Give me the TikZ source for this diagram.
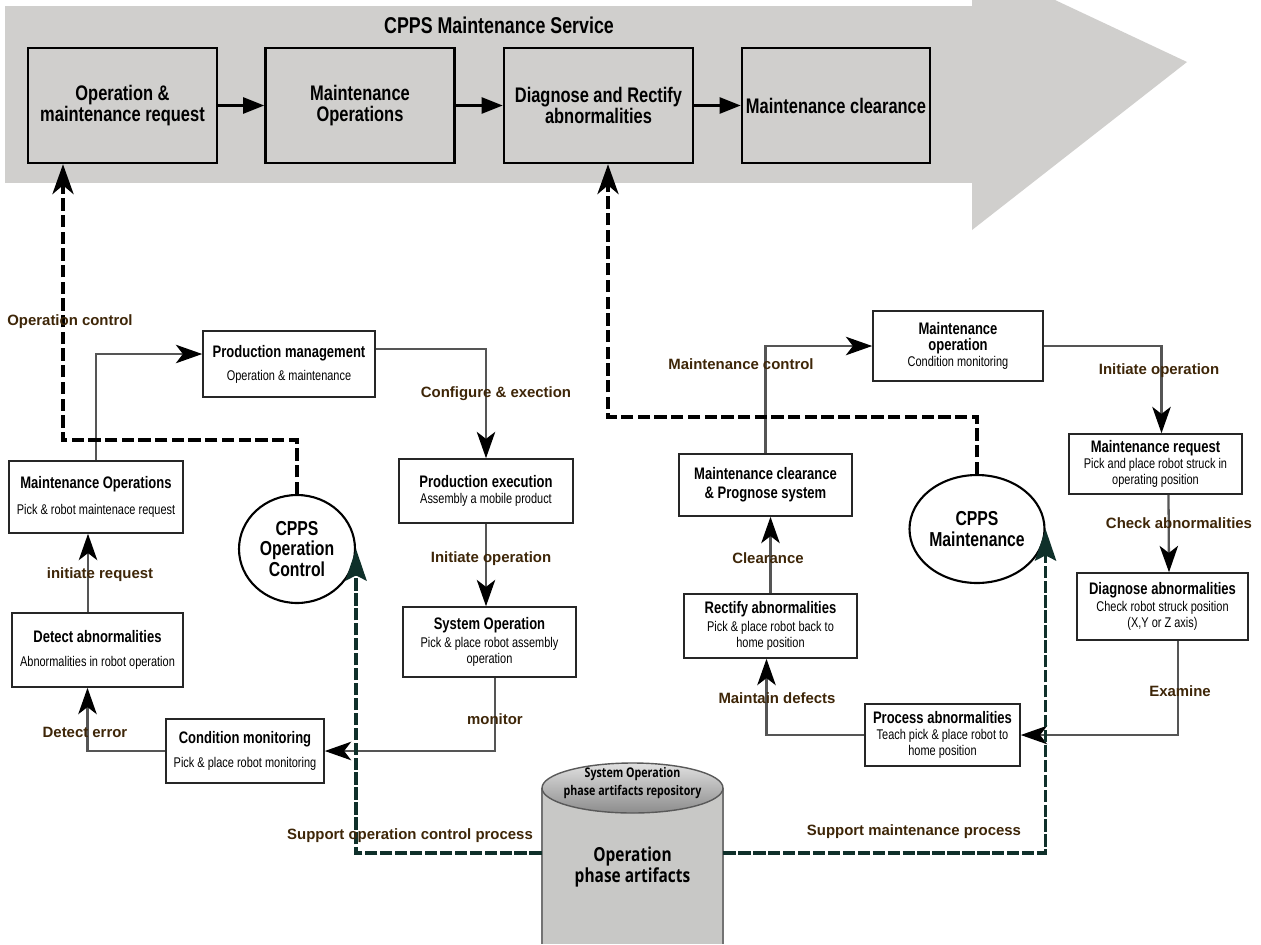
\documentclass[tikz,border=0pt]{standalone}
\usepackage{fontspec}
\usetikzlibrary{arrows.meta,calc,shapes.geometric}
\newfontfamily\nar[FakeStretch=0.78]{Liberation Sans}
\newfontfamily\labfam{Liberation Sans}
\newfontfamily\osans[FakeStretch=0.8]{Open Sans}
\definecolor{bgray}{RGB}{208,207,205}
\definecolor{lgray}{RGB}{85,85,85}
\definecolor{tealc}{RGB}{15,48,42}
\definecolor{brownc}{RGB}{62,38,8}
\definecolor{cylg}{RGB}{200,200,198}
\newcommand\ttlf{\nar\bfseries\fontsize{9.5}{11}\selectfont}
\newcommand\subf{\nar\fontsize{8}{9}\selectfont}
\newcommand\labf{\labfam\bfseries\fontsize{8.5}{10}\selectfont}
\newcommand\bigf{\nar\bfseries\fontsize{12}{12}\selectfont}
\newcommand\circf{\nar\bfseries\fontsize{11.5}{11.5}\selectfont}
\newcommand\titf{\nar\bfseries\fontsize{13}{14}\selectfont}
\begin{document}
\begin{tikzpicture}[x=0.02cm,y=-0.02cm,
  bbox/.style={draw=black,line width=1.4pt,fill=bgray,minimum width=3.78cm,minimum height=2.3cm,inner sep=2pt,align=center,font=\bigf},
  sbox/.style={draw=black!85,line width=0.9pt,fill=white,align=center,inner sep=1pt,font=\subf},
  circ/.style={draw=black,line width=1.2pt,ellipse,minimum width=2.32cm,minimum height=2.16cm,inner sep=0pt,align=center,font=\circf},
  conn/.style={draw=lgray,line width=1.3pt,-{Stealth[length=15pt,width=10.5pt,inset=4pt,color=black]}},
  bar/.style={draw=black,line width=1.7pt,-{Triangle[length=12pt,width=9pt]}},
  dsh/.style={draw=black,line width=2.2pt,dash pattern=on 7pt off 2.5pt,-{Stealth[length=17pt,width=12pt,inset=5pt]}},
  tdsh/.style={draw=tealc,line width=2pt,dash pattern=on 7pt off 1.5pt,-{Stealth[length=18pt,width=12pt,inset=3pt]}},
  lab/.style={font=\labf,text=brownc,inner sep=0pt},
]
\fill[white] (0,0) rectangle (1261,944);
\useasboundingbox (0,0) rectangle (1261,944);

% banner
\fill[bgray] (5,6) rectangle (972,183);
\fill[bgray] (972,0) -- (1055,0) -- (1187,62) -- (972,230) -- cycle;
\node[font=\titf] (title) at (499,25) {CPPS Maintenance Service};
\node[bbox] (b1) at (122.5,105.5) {Operation \&\\maintenance request};
\node[bbox] (b2) at (360,105.5) {Maintenance\\Operations};
\node[bbox] (b3) at (598.5,105.5) {Diagnose and Rectify\\abnormalities};
\node[bbox,minimum width=3.76cm] (b4) at (836,105.5) {Maintenance clearance};
\draw[bar] (b1) -- (b2);
\draw[bar] (b2) -- (b3);
\draw[bar] (b3) -- (b4);

% left part
\node[sbox,minimum width=3.44cm,minimum height=1.32cm] (pm) at (289,364) {{\ttlf Production management}\\[4pt]Operation \& maintenance};
\node[sbox,minimum width=3.48cm,minimum height=1.44cm] (mo) at (96,497) {{\ttlf Maintenance Operations}\\[6pt]Pick \& robot maintenace request};
\node[sbox,minimum width=3.42cm,minimum height=1.48cm] (da) at (97.5,650) {{\ttlf Detect abnormalities}\\[5pt]Abnormalities in robot operation};
\node[sbox,minimum width=3.16cm,minimum height=1.28cm] (cm) at (245,751) {{\ttlf Condition monitoring}\\[5pt]Pick \& place robot monitoring};
\node[sbox,minimum width=3.48cm,minimum height=1.28cm] (pe) at (486,491) {{\ttlf Production execution}\\Assembly a mobile product};
\node[sbox,minimum width=3.46cm,minimum height=1.40cm] (so) at (489.5,642) {{\ttlf System Operation}\\[1pt]Pick \& place robot assembly\\operation};
\node[circ] (coc) at (297,549) {CPPS\\Operation\\Control};

% right part
\node[sbox,minimum width=3.40cm,minimum height=1.40cm] (mo2) at (958,346) {{\ttlf Maintenance}\\{\ttlf operation}\\Condition monitoring};
\node[sbox,minimum width=3.46cm,minimum height=1.24cm,font=\ttlf] (mc) at (765.5,485) {Maintenance clearance\\\& Prognose system};
\node[sbox,minimum width=3.46cm,minimum height=1.28cm] (ra) at (770.5,626) {{\ttlf Rectify abnormalities}\\[1pt]Pick \& place robot back to\\home position};
\node[sbox,minimum width=3.46cm,minimum height=1.20cm] (mr) at (1155.5,464) {{\ttlf Maintenance request}\\Pick and place robot struck in\\operating position};
\node[sbox,minimum width=3.42cm,minimum height=1.34cm] (dg) at (1162.5,606.5) {{\ttlf Diagnose abnormalities}\\[1pt]Check robot struck position\\(X,Y or Z axis)};
\node[sbox,minimum width=3.10cm,minimum height=1.24cm] (pa) at (942.5,735) {{\ttlf Process abnormalities}\\Teach pick \& place robot to\\home position};
\node[circ] (cm2) at (977,529) {CPPS\\Maintenance};

% cylinder
\fill[cylg] (542,788) rectangle (723,944);
\draw[black!55,line width=0.8pt] (542,788) -- (542,944) (723,788) -- (723,944);
\draw[black!65,line width=0.8pt,top color=black!12,bottom color=black!45] (632.5,788) ellipse [x radius=90.5,y radius=25];
\node[inner sep=0pt,minimum width=3.62cm,minimum height=1pt] (cyl) at (632.5,853) {};
\node[font=\osans\bfseries\fontsize{7.6}{10.5}\selectfont,align=center] (cyt) at (632.5,783) {System Operation\\phase artifacts repository};
\node[font=\osans\bfseries\fontsize{11}{12}\selectfont,align=center] (cyb) at (632.5,867) {Operation\\phase artifacts};

% connectors left
\draw[conn] (mo.north) |- ($(pm.west)+(0,-10)$);
\draw[conn] ($(pm.east)+(0,-15)$) -| (pe.north);
\draw[conn] (pe.south) -- (pe.south |- so.north);
\draw[conn] ($(so.south)+(5.5,0)$) |- (cm.east);
\draw[conn] (cm.west) -| ($(da.south)+(-10,0)$);
\draw[conn] ($(da.north)+(-9.5,0)$) -- ($(mo.south)+(-8,0)$);
\coordinate (d1) at (63,440);
\draw[dsh] (coc.north) |- (d1) -- (d1 |- b1.south);
\draw[tdsh] (cyl.west) -| (coc.east);

% connectors right
\draw[conn] (mc.north) |- (mo2.west);
\draw[conn] (mo2.east) -| ($(mr.north)+(6,0)$);
\draw[conn] ($(mr.south)+(13,0)$) -- ($(dg.north)+(6.5,0)$);
\draw[conn] ($(dg.south)+(15.5,0)$) |- (pa.east);
\draw[conn] (pa.west) -| ($(ra.south)+(-4,0)$);
\draw[conn] (ra.north) -- (ra.north |- mc.south);
\coordinate (d2) at (608,417);
\draw[dsh] (cm2.north) |- (d2) -- (d2 |- b3.south);
\draw[tdsh] (cyl.east) -| (cm2.east);

% labels
\node[lab] (l1) at (70,322) {Operation control};
\node[lab] (l2) at (496,394) {Configure \& exection};
\node[lab] (l3) at (491,559) {Initiate operation};
\node[lab] (l4) at (495,719) {monitor};
\node[lab] (l5) at (85,732) {Detect error};
\node[lab] (l6) at (100,575) {initiate request};
\node[lab] (l7) at (410,836) {Support operation control process};
\node[lab] (l8) at (741,364) {Maintenance control};
\node[lab] (l9) at (1159,371) {Initiate operation};
\node[lab] (l10) at (1179,523) {Check abnormalities};
\node[lab] (l11) at (1180,691) {Examine};
\node[lab] (l12) at (777,698) {Maintain defects};
\node[lab] (l13) at (768,558) {Clearance};
\node[lab] (l14) at (914,832) {Support maintenance process};
\end{tikzpicture}
\end{document}
